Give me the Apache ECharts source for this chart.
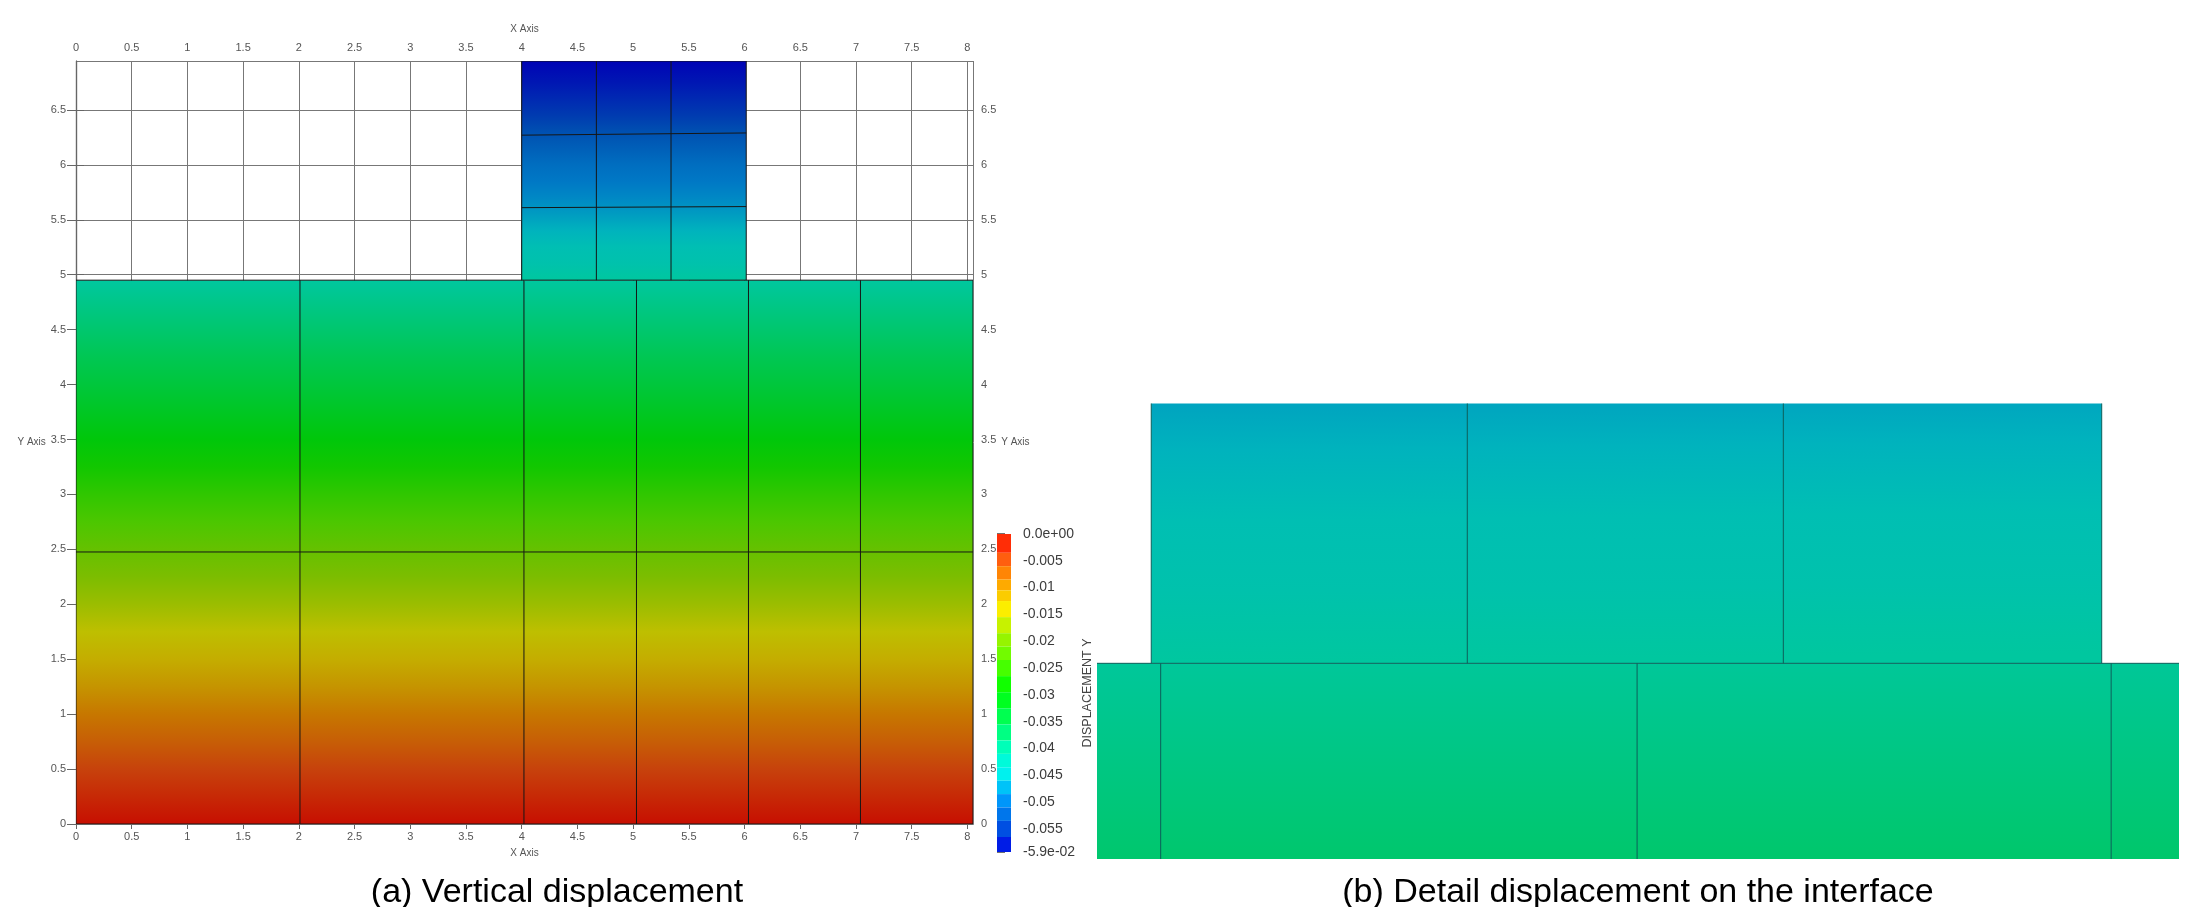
<!DOCTYPE html>
<html>
<head>
<meta charset="utf-8">
<title>Vertical displacement</title>
<script src="https://cdn.jsdelivr.net/npm/echarts@6/dist/echarts.min.js"></script>
<style>
  html, body { margin: 0; background: #fff; }
  #main { width: 2200px; height: 907px; }
</style>
</head>
<body>
<div id="main"></div>
<script>
// displacement, y position -> value
const lowerY = [0, 0.25, 0.5, 0.75, 1, 1.25, 1.5, 1.75, 2, 2.25, 2.5, 2.75, 3, 3.25, 3.5, 3.75, 4, 4.25, 4.5, 4.75, 4.95];
const lowerDisp = [-0.0002, -0.0022, -0.0042, -0.0064, -0.0085, -0.0107, -0.0128, -0.0149, -0.017, -0.0191, -0.0212, -0.0234, -0.0255, -0.0277, -0.0298, -0.0318, -0.0338, -0.0357, -0.0375, -0.0393, -0.0408];
const upperY = [4.95, 5.1, 5.25, 5.4, 5.55, 5.7, 5.85, 6, 6.15, 6.3, 6.45, 6.6, 6.75, 6.945];
const upperDisp = [-0.0408, -0.0425, -0.0438, -0.0455, -0.047, -0.0483, -0.0495, -0.0505, -0.052, -0.0535, -0.0552, -0.0565, -0.0578, -0.0593];

// mesh of both bodies
const lowerMeshX = [2.01, 4.02, 5.03, 6.035, 7.04];
const lowerMeshY = [2.476];
const upperMeshX = [4.67, 5.34];
const upperMeshY = [[6.27, 6.29], [5.61, 5.62]];
const lowerBody = [0, 8.05, 0, 4.95];
const upperBody = [4, 6.015, 4.95, 6.945];

// colour legend
const legendStops = [0, -0.0045, -0.0085, -0.0115, -0.0145, -0.0185, -0.0235, -0.029, -0.036, -0.041, -0.045, -0.049, -0.054, -0.0593];
const legendColors = ['#ff1000', '#ff5a10', '#ff9900', '#fbcc00', '#fbf500', '#a8f000', '#60ff00', '#00ff00', '#00ff70', '#00ffd0', '#00f0f0', '#00a0ff', '#0060e0', '#0004e8'];
const legendBands = [0, -0.0035, -0.006, -0.0085, -0.0105, -0.0125, -0.0155, -0.0185, -0.021, -0.0235, -0.0265, -0.0295, -0.0325, -0.0355, -0.0385, -0.041, -0.0435, -0.046, -0.0485, -0.051, -0.0535, -0.0565, -0.0593];
const legendTicks = [0, -0.005, -0.01, -0.015, -0.02, -0.025, -0.03, -0.035, -0.04, -0.045, -0.05, -0.055, -0.0593];
const legendLabels = ['0.0e+00', '-0.005', '-0.01', '-0.015', '-0.02', '-0.025', '-0.03', '-0.035', '-0.04', '-0.045', '-0.05', '-0.055', '-5.9e-02'];

const FONT = '"Liberation Sans", Arial, sans-serif';
const FIELD_SHADE = 0.78; // the mesh is rendered darker than its legend

function colorAt(v, shade) {
  let i = 0;
  while (i < legendStops.length - 2 && v < legendStops[i + 1]) i++;
  const t = Math.min(1, Math.max(0, (v - legendStops[i]) / (legendStops[i + 1] - legendStops[i])));
  const c = echarts.color.parse(echarts.color.lerp(t, [legendColors[i], legendColors[i + 1]]));
  return echarts.color.stringify([c[0] * shade, c[1] * shade, c[2] * shade, 1], 'rgb');
}

// one body as a rectangle, coloured along y by the displacement samples
function fieldSeries(body, ys, disp, axis, tilt) {
  const y0 = ys[0], y1 = ys[ys.length - 1];
  const stops = ys.map((y, i) => ({ offset: (y - y0) / (y1 - y0), color: colorAt(disp[i], FIELD_SHADE) }));
  return {
    type: 'custom',
    xAxisIndex: axis,
    yAxisIndex: axis,
    clip: true,
    silent: true,
    z: 3,
    data: [body],
    renderItem(params, api) {
      const a = api.coord([api.value(0), api.value(3)]);
      const b = api.coord([api.value(1), api.value(2)]);
      return {
        type: 'rect',
        shape: { x: a[0], y: a[1], width: b[0] - a[0], height: b[1] - a[1] },
        style: { fill: new echarts.graphic.LinearGradient(0, 1, tilt, 0, stops) }
      };
    }
  };
}

function meshSeries(segments, axis, color, width) {
  return {
    type: 'custom',
    xAxisIndex: axis,
    yAxisIndex: axis,
    clip: true,
    silent: true,
    z: 5,
    data: segments,
    renderItem(params, api) {
      const a = api.coord([api.value(0), api.value(1)]);
      const b = api.coord([api.value(2), api.value(3)]);
      return {
        type: 'line',
        shape: { x1: a[0], y1: a[1], x2: b[0], y2: b[1] },
        style: { stroke: color, lineWidth: width }
      };
    }
  };
}

const [lx0, lx1, ly0, ly1] = lowerBody;
const [ux0, ux1, uy0, uy1] = upperBody;
const meshSegments = [
  ...lowerMeshX.map((x) => [x, ly0, x, ly1]),
  ...lowerMeshY.map((y) => [lx0, y, lx1, y]),
  ...upperMeshX.map((x) => [x, uy0, x, uy1]),
  ...upperMeshY.map((y) => [ux0, y[0], ux1, y[1]]),
  [lx0, ly1, lx1, ly1], [lx0, ly0, lx1, ly0], [lx0, ly0, lx0, ly1], [lx1, ly0, lx1, ly1],
  [ux0, uy0, ux0, uy1], [ux1, uy0, ux1, uy1], [ux0, uy1, ux1, uy1]
];

const legendData = legendBands.slice(0, -1).map((v, i) => [0, v, 1, legendBands[i + 1]]);

function meshAxis(extra, tickLength, margin) {
  return Object.assign({
    type: 'value',
    gridIndex: 0,
    interval: 0.5,
    min: 0,
    axisLine: { show: true, lineStyle: { color: '#666', width: 1.2 } },
    axisTick: { show: true, length: tickLength, lineStyle: { color: '#666' } },
    axisLabel: { color: '#555', fontSize: 11, fontFamily: FONT, margin, showMaxLabel: false },
    nameLocation: 'middle',
    nameTextStyle: { color: '#555', fontSize: 10, fontFamily: FONT },
    splitLine: { show: false }
  }, extra);
}

const hiddenAxis = (gridIndex, min, max) => ({ type: 'value', gridIndex, min, max, show: false });
const gridLine = { show: true, lineStyle: { color: '#777', width: 1 } };

const chart = echarts.init(document.getElementById('main'));
chart.setOption({
  animation: false,
  backgroundColor: '#fff',
  title: [
    { text: '(a) Vertical displacement', left: 552, top: 888, textAlign: 'center', textVerticalAlign: 'middle',
      textStyle: { color: '#000', fontSize: 34, fontWeight: 'normal', fontFamily: FONT } },
    { text: '(b) Detail displacement on the interface', left: 1633, top: 888, textAlign: 'center', textVerticalAlign: 'middle',
      textStyle: { color: '#000', fontSize: 34, fontWeight: 'normal', fontFamily: FONT } }
  ],
  grid: [
    { left: 76, top: 61, width: 897, height: 763 },
    { left: 1097, top: 403.5, width: 1081.6, height: 455.5 },
    { left: 997, top: 534, width: 14, height: 318 }
  ],
  xAxis: [
    meshAxis({ position: 'bottom', max: 8.05, name: 'X Axis', nameGap: 24.5, splitLine: gridLine }, 5, 7),
    meshAxis({ position: 'top', max: 8.05, name: 'X Axis', nameGap: 27 }, 5, 8),
    hiddenAxis(1, 3.885, 6.178),
    hiddenAxis(2, 0, 1)
  ],
  yAxis: [
    meshAxis({ position: 'left', max: 6.945, name: 'Y Axis', nameGap: 22, nameRotate: 0, splitLine: gridLine }, 9, 10),
    meshAxis({ position: 'right', max: 6.945, name: 'Y Axis', nameGap: 25, nameRotate: 0 }, 8, 8),
    hiddenAxis(1, 4.535, 5.501),
    {
      type: 'value',
      gridIndex: 2,
      position: 'right',
      min: -0.0593,
      max: 0,
      name: 'DISPLACEMENT Y',
      nameLocation: 'middle',
      nameRotate: 90,
      nameGap: 70,
      nameTextStyle: { color: '#444', fontSize: 12.5, fontFamily: FONT },
      axisLine: { show: false },
      axisTick: { show: true, length: 8, customValues: legendTicks, lineStyle: { color: '#444', width: 1.5 } },
      axisLabel: {
        show: true,
        color: '#3c3c3c',
        fontSize: 14,
        fontFamily: FONT,
        margin: 12,
        customValues: legendTicks,
        formatter: (v) => legendLabels[legendTicks.indexOf(v)]
      },
      splitLine: { show: false }
    }
  ],
  series: [
    fieldSeries(lowerBody, lowerY, lowerDisp, 0, 0),
    fieldSeries(upperBody, upperY, upperDisp, 0, 0),
    meshSeries(meshSegments, 0, '#161616', 1),
    fieldSeries(lowerBody, lowerY, lowerDisp, 2, -0.0065),
    fieldSeries(upperBody, upperY, upperDisp, 2, -0.0104),
    meshSeries(meshSegments, 2, '#0d5f5a', 1),
    {
      type: 'custom',
      xAxisIndex: 3,
      yAxisIndex: 3,
      silent: true,
      data: legendData,
      renderItem(params, api) {
        const a = api.coord([api.value(0), api.value(1)]);
        const b = api.coord([api.value(2), api.value(3)]);
        const mid = (api.value(1) + api.value(3)) / 2;
        return {
          type: 'rect',
          shape: { x: a[0], y: a[1], width: b[0] - a[0], height: b[1] - a[1] },
          style: { fill: colorAt(mid, 1) }
        };
      }
    }
  ]
});
</script>
</body>
</html>
